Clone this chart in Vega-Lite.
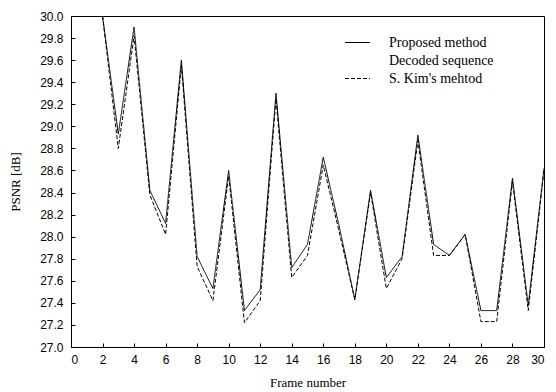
{
  "$schema": "https://vega.github.io/schema/vega-lite/v6.json",
  "width": 473,
  "height": 331,
  "autosize": {"type": "none"},
  "padding": {"left": 71, "top": 16, "right": 12, "bottom": 45},
  "background": "white",
  "config": {
    "view": {"stroke": "black", "strokeWidth": 1},
    "axis": {
      "domain": false,
      "grid": false,
      "tickColor": "black",
      "tickSize": -4,
      "labelColor": "black",
      "labelFont": "Liberation Sans",
      "labelFontSize": 12,
      "titleFont": "Liberation Serif",
      "titleFontSize": 13,
      "titleFontWeight": "normal",
      "titleColor": "black"
    }
  },
  "data": {
    "values": [
      {"frame": 2, "method": "Proposed method", "psnr": 30.0},
      {"frame": 3, "method": "Proposed method", "psnr": 28.93},
      {"frame": 4, "method": "Proposed method", "psnr": 29.9},
      {"frame": 5, "method": "Proposed method", "psnr": 28.42},
      {"frame": 6, "method": "Proposed method", "psnr": 28.12},
      {"frame": 7, "method": "Proposed method", "psnr": 29.6},
      {"frame": 8, "method": "Proposed method", "psnr": 27.82},
      {"frame": 9, "method": "Proposed method", "psnr": 27.53},
      {"frame": 10, "method": "Proposed method", "psnr": 28.6},
      {"frame": 11, "method": "Proposed method", "psnr": 27.33},
      {"frame": 12, "method": "Proposed method", "psnr": 27.52},
      {"frame": 13, "method": "Proposed method", "psnr": 29.3},
      {"frame": 14, "method": "Proposed method", "psnr": 27.72},
      {"frame": 15, "method": "Proposed method", "psnr": 27.93},
      {"frame": 16, "method": "Proposed method", "psnr": 28.72},
      {"frame": 17, "method": "Proposed method", "psnr": 28.1},
      {"frame": 18, "method": "Proposed method", "psnr": 27.43},
      {"frame": 19, "method": "Proposed method", "psnr": 28.42},
      {"frame": 20, "method": "Proposed method", "psnr": 27.63},
      {"frame": 21, "method": "Proposed method", "psnr": 27.82},
      {"frame": 22, "method": "Proposed method", "psnr": 28.92},
      {"frame": 23, "method": "Proposed method", "psnr": 27.93},
      {"frame": 24, "method": "Proposed method", "psnr": 27.83},
      {"frame": 25, "method": "Proposed method", "psnr": 28.02},
      {"frame": 26, "method": "Proposed method", "psnr": 27.33},
      {"frame": 27, "method": "Proposed method", "psnr": 27.33},
      {"frame": 28, "method": "Proposed method", "psnr": 28.53},
      {"frame": 29, "method": "Proposed method", "psnr": 27.38},
      {"frame": 30, "method": "Proposed method", "psnr": 28.62},
      {"frame": 2, "method": "S. Kim's mehtod", "psnr": 30.0},
      {"frame": 3, "method": "S. Kim's mehtod", "psnr": 28.8},
      {"frame": 4, "method": "S. Kim's mehtod", "psnr": 29.82},
      {"frame": 5, "method": "S. Kim's mehtod", "psnr": 28.38},
      {"frame": 6, "method": "S. Kim's mehtod", "psnr": 28.02},
      {"frame": 7, "method": "S. Kim's mehtod", "psnr": 29.55},
      {"frame": 8, "method": "S. Kim's mehtod", "psnr": 27.73},
      {"frame": 9, "method": "S. Kim's mehtod", "psnr": 27.42},
      {"frame": 10, "method": "S. Kim's mehtod", "psnr": 28.55},
      {"frame": 11, "method": "S. Kim's mehtod", "psnr": 27.22},
      {"frame": 12, "method": "S. Kim's mehtod", "psnr": 27.42},
      {"frame": 13, "method": "S. Kim's mehtod", "psnr": 29.25},
      {"frame": 14, "method": "S. Kim's mehtod", "psnr": 27.63},
      {"frame": 15, "method": "S. Kim's mehtod", "psnr": 27.83},
      {"frame": 16, "method": "S. Kim's mehtod", "psnr": 28.65},
      {"frame": 17, "method": "S. Kim's mehtod", "psnr": 28.05},
      {"frame": 18, "method": "S. Kim's mehtod", "psnr": 27.43},
      {"frame": 19, "method": "S. Kim's mehtod", "psnr": 28.4},
      {"frame": 20, "method": "S. Kim's mehtod", "psnr": 27.53},
      {"frame": 21, "method": "S. Kim's mehtod", "psnr": 27.8},
      {"frame": 22, "method": "S. Kim's mehtod", "psnr": 28.87},
      {"frame": 23, "method": "S. Kim's mehtod", "psnr": 27.83},
      {"frame": 24, "method": "S. Kim's mehtod", "psnr": 27.83},
      {"frame": 25, "method": "S. Kim's mehtod", "psnr": 28.02},
      {"frame": 26, "method": "S. Kim's mehtod", "psnr": 27.23},
      {"frame": 27, "method": "S. Kim's mehtod", "psnr": 27.23},
      {"frame": 28, "method": "S. Kim's mehtod", "psnr": 28.5},
      {"frame": 29, "method": "S. Kim's mehtod", "psnr": 27.33},
      {"frame": 30, "method": "S. Kim's mehtod", "psnr": 28.6}
    ]
  },
  "mark": {"type": "line", "color": "black", "strokeWidth": 1, "clip": true},
  "encoding": {
    "x": {
      "field": "frame",
      "type": "quantitative",
      "scale": {"domain": [0, 30], "nice": false},
      "axis": {"values": [0,2,4,6,8,10,12,14,16,18,20,22,24,26,28,30], "title": "Frame number", "titlePadding": 11, "labelPadding": 11}
    },
    "y": {
      "field": "psnr",
      "type": "quantitative",
      "scale": {"domain": [27, 30], "nice": false, "zero": false},
      "axis": {"values": [27.0,27.2,27.4,27.6,27.8,28.0,28.2,28.4,28.6,28.8,29.0,29.2,29.4,29.6,29.8,30.0], "format": ".1f", "title": "PSNR [dB]", "titlePadding": 17, "labelPadding": 12}
    },
    "strokeDash": {
      "field": "method",
      "type": "nominal",
      "scale": {
        "domain": ["Proposed method", "Decoded sequence", "S. Kim's mehtod"],
        "range": [[1, 0], [0, 1000], [4, 2]]
      },
      "legend": {
        "title": null,
        "orient": "none",
        "legendX": 276,
        "legendY": 16,
        "symbolType": "M-1.25,0H1.25",
        "symbolSize": 400,
        "symbolStrokeColor": "black",
        "symbolStrokeWidth": 1,
        "symbolFillColor": "transparent",
        "labelFont": "Liberation Serif",
        "labelFontSize": 14,
        "labelColor": "black",
        "labelOffset": 21,
        "rowPadding": 0
      }
    }
  }
}
